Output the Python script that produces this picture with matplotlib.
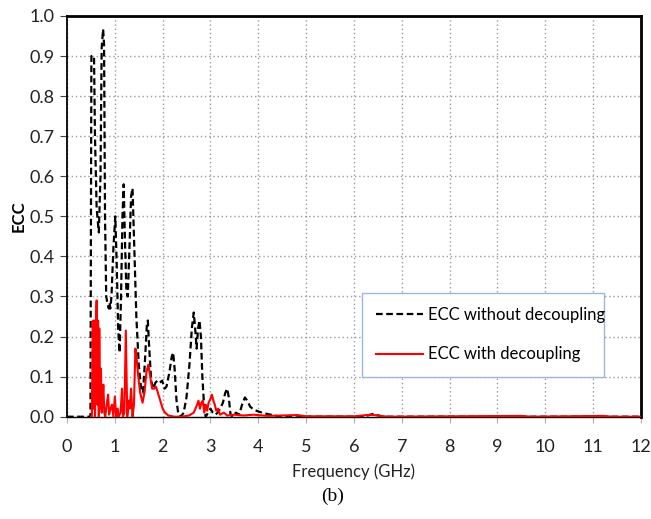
import matplotlib
matplotlib.use('Agg')
import matplotlib.pyplot as plt
from matplotlib import font_manager

# ECC vs frequency
freq_nodec = [0.0, 0.49, 0.51, 0.54, 0.565, 0.585, 0.62, 0.665, 0.70, 0.725,
              0.755, 0.775, 0.795, 0.82, 0.85, 0.875, 0.89, 0.905, 0.93, 0.97,
              1.01, 1.04, 1.07, 1.10, 1.13, 1.16, 1.185, 1.21, 1.24, 1.27,
              1.30, 1.34, 1.37, 1.40, 1.45, 1.50, 1.55, 1.59, 1.63, 1.67,
              1.69, 1.72, 1.76, 1.80, 1.85, 1.89, 1.94, 1.99, 2.04, 2.08,
              2.14, 2.19, 2.22, 2.25, 2.29, 2.33, 2.38, 2.44, 2.50, 2.56,
              2.61, 2.65, 2.68, 2.71, 2.74, 2.77, 2.80, 2.83, 2.87, 2.90,
              2.95, 3.00, 3.05, 3.10, 3.15, 3.20, 3.26, 3.31, 3.35, 3.38,
              3.42, 3.47, 3.53, 3.60, 3.66, 3.72, 3.77, 3.83, 3.90, 3.98,
              4.08, 4.18, 4.30, 4.45, 4.80, 5.00, 6.20, 6.40, 6.60, 12.0]
ecc_nodec = [0.0, 0.0, 0.90, 0.90, 0.90, 0.70, 0.52, 0.46, 0.60, 0.92,
             0.967, 0.93, 0.50, 0.30, 0.28, 0.27, 0.285, 0.27, 0.30, 0.42,
             0.50, 0.38, 0.22, 0.16, 0.30, 0.50, 0.58, 0.45, 0.32, 0.30,
             0.40, 0.55, 0.57, 0.45, 0.25, 0.13, 0.07, 0.06, 0.14, 0.23,
             0.24, 0.17, 0.09, 0.07, 0.085, 0.09, 0.085, 0.09, 0.07, 0.075,
             0.11, 0.15, 0.16, 0.12, 0.04, 0.005, 0.0, 0.01, 0.05, 0.13,
             0.22, 0.26, 0.22, 0.17, 0.22, 0.24, 0.20, 0.10, 0.02, 0.0,
             0.01, 0.02, 0.01, 0.005, 0.01, 0.02, 0.035, 0.06, 0.07, 0.05,
             0.005, 0.0, 0.01, 0.005, 0.03, 0.048, 0.04, 0.025, 0.018, 0.014,
             0.01, 0.007, 0.004, 0.0, 0.003, 0.0, 0.0, 0.007, 0.0, 0.0]

freq_dec = [0.50, 0.52, 0.54, 0.555, 0.57, 0.585, 0.60, 0.62, 0.635, 0.65,
            0.665, 0.675, 0.69, 0.71, 0.725, 0.745, 0.76, 0.78, 0.80, 0.83,
            0.86, 0.88, 0.91, 0.94, 0.97, 1.00, 1.03, 1.06, 1.08, 1.12,
            1.15, 1.17, 1.20, 1.23, 1.26, 1.29, 1.31, 1.34, 1.37, 1.40,
            1.43, 1.46, 1.49, 1.53, 1.58, 1.62, 1.66, 1.70, 1.74, 1.78,
            1.82, 1.86, 1.90, 1.95, 2.00, 2.05, 2.12, 2.25, 2.40, 2.55,
            2.65, 2.72, 2.75, 2.78, 2.81, 2.84, 2.87, 2.90, 2.93, 2.96,
            3.00, 3.03, 3.06, 3.09, 3.12, 3.16, 3.20, 3.28, 3.35, 3.50,
            3.70, 3.90, 4.20, 4.80, 5.00, 6.00, 6.35, 6.50, 6.70, 9.50,
            9.70, 11.2, 11.4, 12.0]
ecc_dec = [0.0, 0.0, 0.24, 0.02, 0.24, 0.0, 0.20, 0.29, 0.03, 0.24,
           0.0, 0.22, 0.02, 0.12, 0.01, 0.04, 0.08, 0.01, 0.0, 0.03,
           0.055, 0.005, 0.02, 0.03, 0.0, 0.05, 0.0, 0.02, 0.0, 0.01,
           0.07, 0.0, 0.01, 0.215, 0.0, 0.04, 0.02, 0.07, 0.0, 0.03,
           0.17, 0.14, 0.10, 0.06, 0.035, 0.06, 0.11, 0.13, 0.10, 0.07,
           0.07, 0.075, 0.06, 0.04, 0.02, 0.01, 0.003, 0.0, 0.0, 0.003,
           0.01, 0.03, 0.04, 0.02, 0.035, 0.04, 0.01, 0.03, 0.015, 0.035,
           0.045, 0.055, 0.04, 0.03, 0.015, 0.02, 0.005, 0.01, 0.003, 0.005,
           0.003, 0.005, 0.002, 0.004, 0.001, 0.001, 0.005, 0.003, 0.0, 0.002,
           0.0, 0.002, 0.0, 0.0]

x_ticks = list(range(0, 13))
y_ticks = [0.0, 0.1, 0.2, 0.3, 0.4, 0.5, 0.6, 0.7, 0.8, 0.9, 1.0]

names = {f.name for f in font_manager.fontManager.ttflist}
sans = ['Liberation Sans Narrow', 'Lato', 'Open Sans', 'DejaVu Sans']
sans = [n for n in sans if n in names] or ['DejaVu Sans']
plt.rcParams['font.family'] = sans

fig = plt.figure(figsize=(6.51, 5.19), dpi=100)
ax = fig.add_axes([0.1029, 0.1971, 0.8817, 0.7721])

ax.plot(freq_nodec, ecc_nodec, color='black', lw=1.6, ls=(0, (3, 1.6)),
        label='ECC without decoupling', zorder=3)
ax.plot(freq_dec, ecc_dec, color='#ff0000', lw=1.5,
        label='ECC with decoupling', zorder=4)

ax.set_xlim(0, 12)
ax.set_ylim(0, 1.0)
ax.set_xticks(x_ticks)
ax.set_yticks(y_ticks)
ax.set_yticklabels(['%.1f' % v for v in y_ticks])
ax.grid(True, color='#9a9a9a', ls=(0, (1, 2)), lw=1.0)
ax.set_axisbelow(True)

ax.tick_params(axis='both', labelsize=13, colors='#404040',
               labelcolor='#222222')
ax.tick_params(axis='y', length=5, width=0.8, pad=4)
ax.tick_params(axis='x', length=4, width=0.8, pad=12, color='#b0b0b0')

for side in ['left', 'top', 'right', 'bottom']:
    ax.spines[side].set_color('black')
ax.spines['left'].set_linewidth(1.3)
ax.spines['top'].set_linewidth(2.0)
ax.spines['right'].set_linewidth(2.0)
ax.spines['bottom'].set_linewidth(1.0)

ax.set_xlabel('Frequency (GHz)', fontsize=12, color='#222222', labelpad=6)
ax.set_ylabel('ECC', fontsize=12, fontweight='bold')
ax.yaxis.set_label_coords(-0.07, 0.5)

leg = ax.legend(loc='upper left', bbox_to_anchor=(0.514, 0.099, 0.422, 0.21),
                mode='expand', borderaxespad=0, fancybox=False,
                edgecolor='#9bb7dc', framealpha=1, fontsize=12,
                handlelength=2.8, handletextpad=0.3, labelspacing=1.4,
                borderpad=0.85)
leg.get_frame().set_linewidth(1.0)

fig.text(0.5115, 0.044, '(b)', ha='center', va='center',
         fontsize=14, family=['Liberation Serif', 'DejaVu Serif'])

fig.savefig('out.png', dpi=100)
